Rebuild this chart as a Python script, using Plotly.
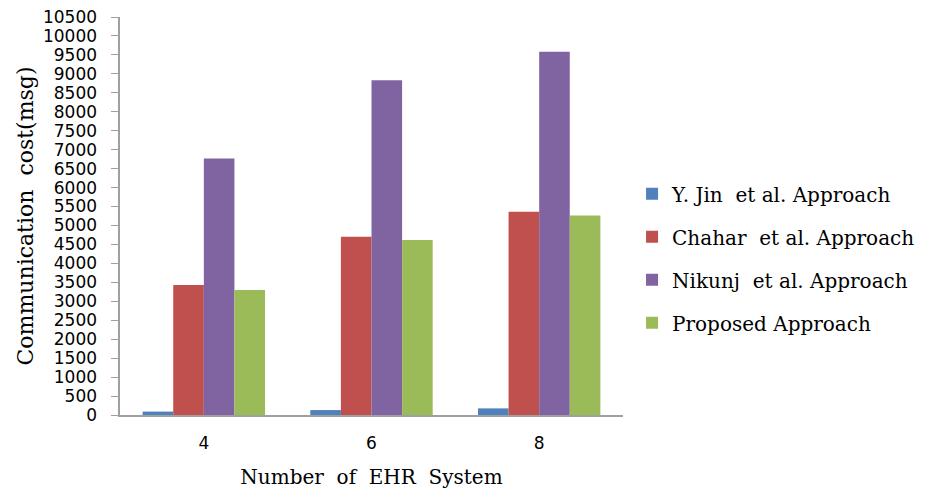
import plotly.graph_objects as go

categories = ["4", "6", "8"]
series_names = ["Y. Jin  et al. Approach", "Chahar  et al. Approach",
                "Nikunj  et al. Approach", "Proposed Approach"]
yjin = [90, 130, 175]
chahar = [3430, 4700, 5360]
nikunj = [6770, 8830, 9580]
proposed = [3300, 4620, 5260]
colors = ["#4F81BD", "#C0504D", "#8064A2", "#9BBB59"]
y_ticks = list(range(0, 10501, 500))

NB = "\u00a0"

fig = go.Figure()
for i, (name, vals) in enumerate(zip(series_names, [yjin, chahar, nikunj, proposed])):
    fig.add_trace(go.Bar(x=categories, y=vals, name=name, marker_color=colors[i],
                         marker_line_width=0, legendgroup=f"g{i}"))

fig.update_layout(
    width=933, height=494,
    margin=dict(l=112, r=318, t=9, b=87),
    paper_bgcolor="white", plot_bgcolor="white",
    barmode="group", bargap=0.27, bargroupgap=0,
    showlegend=True,
    legend=dict(x=1.018, y=0.605, xanchor="left", yanchor="top",
                font=dict(family="DejaVu Serif", size=20, color="black"),
                traceorder="grouped", tracegroupgap=14, itemwidth=30),
    font=dict(family="DejaVu Sans", size=17, color="black"),
)
fig.update_xaxes(
    showline=True, linecolor="#A0A0A0", linewidth=1.5,
    ticks="outside", ticklen=12, tickcolor="rgba(0,0,0,0)",
    tickfont=dict(family="DejaVu Sans", size=17),
    title=dict(text="Number  of  EHR  System", standoff=18,
               font=dict(family="DejaVu Serif", size=20)),
    automargin=False,
)
fig.update_yaxes(
    range=[0, 10500], tickvals=y_ticks,
    ticktext=[str(v) + NB * 2 for v in y_ticks],
    ticklabeloverflow="allow",
    showline=True, linecolor="#A0A0A0", linewidth=1.5,
    ticks="outside", ticklen=7, tickcolor="#A0A0A0", showgrid=False,
    zeroline=False,
    tickfont=dict(family="DejaVu Sans", size=17),
    title=dict(text="Communication  cost(msg)", standoff=3,
               font=dict(family="DejaVu Serif", size=22)),
    automargin=False,
)

fig.write_html("out.html")
